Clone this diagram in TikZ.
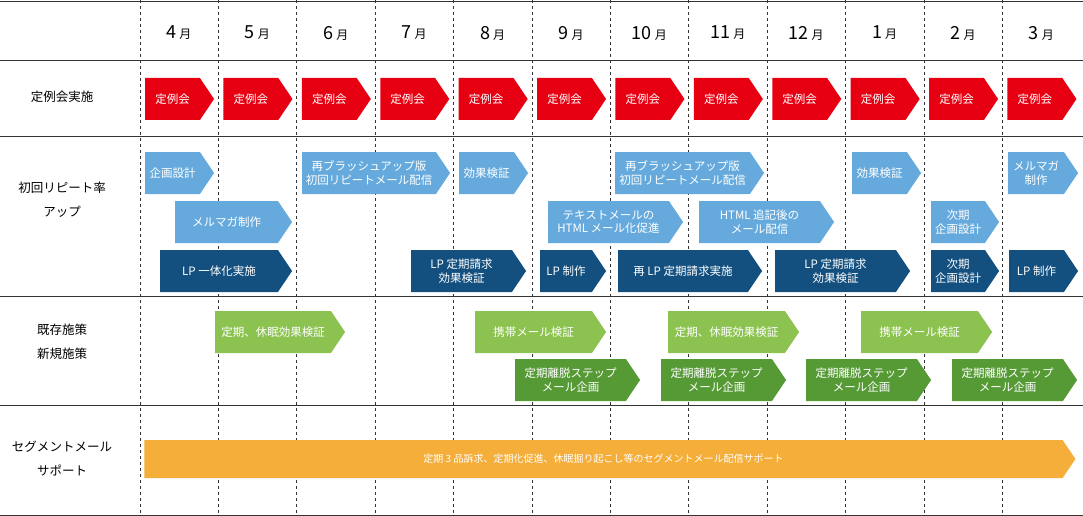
\documentclass[tikz,border=0pt]{standalone}
\usepackage{fontspec}
\setmainfont{Noto Sans CJK JP}
\usetikzlibrary{shapes.symbols}
\definecolor{kRed}{HTML}{E60012}
\definecolor{kSky}{HTML}{66AADD}
\definecolor{kNavy}{HTML}{13507F}
\definecolor{kLeaf}{HTML}{8CC350}
\definecolor{kMoss}{HTML}{569A36}
\definecolor{kOrange}{HTML}{F5AE3A}
\newcommand{\task}[7][42]{%
  \pgfmathsetmacro{\tx}{((#3)+(#4))/2-7}\pgfmathsetmacro{\tw}{(#4)-(#3)}\pgfmathsetmacro{\ty}{#5+#1/2}%
  \node[chev,#6,minimum width=\tw pt,minimum height=#1 pt] (#2) at (\tx,\ty) {#7};}
\begin{document}
\begin{tikzpicture}[x=1pt,y=-1pt,
    chev/.style={signal,signal to=east,signal pointer angle=112,inner sep=0pt,outer sep=0pt,
      text=white,align=center,font=\fontsize{11.5}{13.5}\selectfont},
    fred/.style={fill=kRed},fsky/.style={fill=kSky},fnavy/.style={fill=kNavy},
    fleaf/.style={fill=kLeaf},fmoss/.style={fill=kMoss},forange/.style={fill=kOrange},
    rowlabel/.style={align=center,font=\fontsize{12.5}{24}\selectfont},
    grid/.style={black!80,line width=0.8pt},
    monthline/.style={black!80,dashed,line width=0.7pt}]
  \useasboundingbox (0,0) rectangle (1083,516);
  % grid
  \foreach \yy in {1,60,136,296,405,515}
    \draw[grid] (0,\yy) -- (1083,\yy);
  \foreach \k in {0,...,11}
    \draw[monthline] ({140+78.4*\k},0) -- ({140+78.4*\k},516);
  % months
  \foreach \m [count=\k from 0] in {4,5,6,7,8,9,10,11,12,1,2,3}
    \node[font=\fontsize{18}{20}\selectfont] (m\m) at ({179+78.4*\k},33) {\m\,{\fontsize{12}{13}\selectfont 月}};
  % row labels
  \node[rowlabel] (lmeet) at (62,97) {定例会実施};
  \node[rowlabel] (lrep) at (62,200) {初回リピート率\\アップ};
  \node[rowlabel] (lold) at (62,342) {既存施策\\新規施策};
  \node[rowlabel] (lseg) at (62,459) {セグメントメール\\サポート};
  % meetings
  \foreach \k in {0,...,11}{
    \task{meet\k}{145+78.4*\k}{214+78.4*\k}{78}{fred}{定例会}}
  % repeat rate
  \task{plan}{145}{214}{152}{fsky}{企画設計}
  \task{brush}{302}{450}{152}{fsky}{再ブラッシュアップ版\\初回リピートメール配信}
  \task{eff}{459}{528}{152}{fsky}{効果検証}
  \task{rebrush}{615}{764}{152}{fsky}{再ブラッシュアップ版\\初回リピートメール配信}
  \task{effb}{852}{921}{152}{fsky}{効果検証}
  \task{magb}{1008}{1078}{152}{fsky}{メルマガ\\制作}
  \task{mag}{175}{292}{201}{fsky}{メルマガ制作}
  \task{html}{548}{683}{201}{fsky}{テキストメールの\\HTML メール化促進}
  \task{htmlb}{699}{834}{201}{fsky}{HTML 追記後の\\メール配信}
  \task{next}{931}{999}{201}{fsky}{次期\\企画設計}
  \task{lpone}{160}{292}{250}{fnavy}{LP 一体化実施}
  \task{lpeff}{411}{526}{250}{fnavy}{LP 定期請求\\効果検証}
  \task{lpmake}{540}{606}{250}{fnavy}{LP 制作}
  \task{lpre}{618}{762}{250}{fnavy}{再 LP 定期請求実施}
  \task{lpeffb}{775}{910}{250}{fnavy}{LP 定期請求\\効果検証}
  \task{nextb}{931}{999}{250}{fnavy}{次期\\企画設計}
  \task{lpmakeb}{1009}{1078}{250}{fnavy}{LP 制作}
  % existing / new
  \task{dorm}{215}{345}{311}{fleaf}{定期、休眠効果検証}
  \task{mob}{475}{606}{311}{fleaf}{携帯メール検証}
  \task{dormb}{668}{799}{311}{fleaf}{定期、休眠効果検証}
  \task{mobb}{861}{992}{311}{fleaf}{携帯メール検証}
  \task{stepa}{515}{640}{359}{fmoss}{定期離脱ステップ\\メール企画}
  \task{stepb}{661}{786}{359}{fmoss}{定期離脱ステップ\\メール企画}
  \task{stepc}{806}{931}{359}{fmoss}{定期離脱ステップ\\メール企画}
  \task{stepd}{952}{1077}{359}{fmoss}{定期離脱ステップ\\メール企画}
  % segment mail
  \task[38]{seg}{145}{1076}{440}{forange}{\fontsize{10}{12}\selectfont 定期 3 品訴求、定期化促進、休眠掘り起こし等のセグメントメール配信サポート}
\end{tikzpicture}
\end{document}
